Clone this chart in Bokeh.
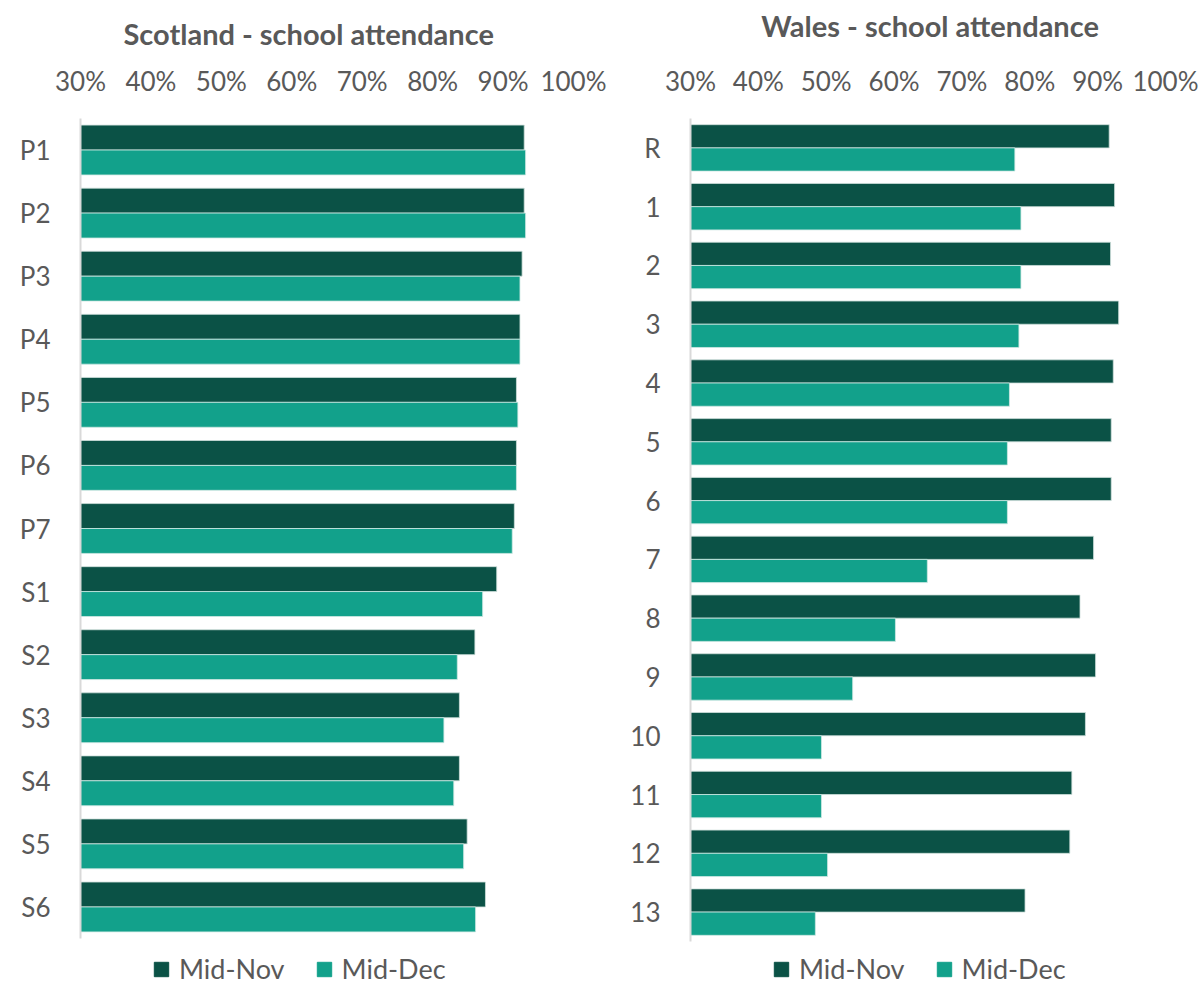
from bokeh.plotting import figure
from bokeh.models import (FactorRange, Range1d, FixedTicker, PrintfTickFormatter,
                          Legend, LegendItem, ColumnDataSource, Label)
from bokeh.transform import dodge
from bokeh.layouts import row, column
from bokeh.embed import file_html
from bokeh.resources import INLINE

# ---------------- data ----------------
scot_years = ["P1", "P2", "P3", "P4", "P5", "P6", "P7", "S1", "S2", "S3", "S4", "S5", "S6"]
scot_nov = [93.0, 93.0, 92.7, 92.4, 91.9, 91.9, 91.6, 89.1, 86.0, 83.8, 83.8, 84.9, 87.5]
scot_dec = [93.2, 93.2, 92.4, 92.4, 92.1, 91.9, 91.3, 87.1, 83.5, 81.6, 83.0, 84.4, 86.1]

wales_years = ["R", "1", "2", "3", "4", "5", "6", "7", "8", "9", "10", "11", "12", "13"]
wales_nov = [91.7, 92.5, 91.9, 93.1, 92.3, 92.0, 92.0, 89.4, 87.4, 89.7, 88.2, 86.2, 85.9, 79.3]
wales_dec = [77.8, 78.7, 78.7, 78.4, 77.0, 76.7, 76.7, 64.9, 60.2, 53.9, 49.3, 49.3, 50.2, 48.4]

x_ticks = [30, 40, 50, 60, 70, 80, 90, 100]
series_labels = ["Mid-Nov", "Mid-Dec"]
titles = ["Scotland - school attendance", "Wales - school attendance"]

NOV_COLOR = "#0B5246"
DEC_COLOR = "#12A18B"
TEXT_COLOR = "#595959"
FONT = "Lato"
HEADER_H = 50


def make_header(width, title, title_x, title_y):
    h = figure(width=width, height=HEADER_H, x_range=Range1d(30, 100),
               y_range=Range1d(HEADER_H, 0), output_backend="svg", toolbar_location=None,
               min_border=0, x_axis_location=None, y_axis_location=None)
    h.outline_line_color = None
    h.grid.visible = False
    h.add_layout(Label(x=title_x, y=title_y, text=title, text_align="center",
                       text_baseline="middle", text_font=FONT, text_font_size="29px",
                       text_font_style="bold", text_color=TEXT_COLOR))
    return h


def make_panel(cats, nov, dec, width, height, b_left, b_right, b_top, b_bottom):
    src = ColumnDataSource(dict(cat=cats, nov=nov, dec=dec))
    p = figure(width=width, height=height,
               y_range=FactorRange(factors=list(reversed(cats))),
               x_range=Range1d(30, 100),
               x_axis_location="above",
               output_backend="svg", toolbar_location=None,
               min_border_left=b_left, min_border_right=b_right,
               min_border_top=b_top, min_border_bottom=b_bottom)
    p.outline_line_color = None
    p.xgrid.visible = False
    p.ygrid.visible = False

    p.hbar(y=dodge("cat", 0.1975, range=p.y_range), left=30, right="nov", height=0.395,
           source=src, fill_color=NOV_COLOR, line_color="#cfe0dc", line_width=0.8)
    p.hbar(y=dodge("cat", -0.1975, range=p.y_range), left=30, right="dec", height=0.395,
           source=src, fill_color=DEC_COLOR, line_color="#cfe9e3", line_width=0.8)

    # x axis (top)
    xa = p.xaxis[0]
    xa.ticker = FixedTicker(ticks=x_ticks)
    xa.formatter = PrintfTickFormatter(format="%d%%")
    xa.axis_line_color = None
    xa.major_tick_line_color = None
    xa.minor_tick_line_color = None
    xa.major_label_text_font = FONT
    xa.major_label_text_font_size = "26px"
    xa.major_label_text_color = TEXT_COLOR
    xa.major_label_standoff = 16

    # y axis
    ya = p.yaxis[0]
    ya.axis_line_color = "#d9d9d9"
    ya.axis_line_width = 2
    ya.major_tick_line_color = None
    ya.minor_tick_line_color = None
    ya.major_tick_out = 0
    ya.major_label_text_font = FONT
    ya.major_label_text_font_size = "26px"
    ya.major_label_text_color = TEXT_COLOR
    ya.major_label_standoff = 30
    return p


def make_legend(width, height, legend_x):
    lf = figure(width=width, height=height, output_backend="svg", toolbar_location=None,
                min_border=0, x_axis_location=None, y_axis_location=None)
    lf.outline_line_color = None
    lf.grid.visible = False
    # zero-size legend proxies (only their swatches are shown in the legend)
    r1 = lf.hbar(y=[0], left=[0], right=[0], height=0, fill_color=NOV_COLOR, line_color=NOV_COLOR)
    r2 = lf.hbar(y=[0], left=[0], right=[0], height=0, fill_color=DEC_COLOR, line_color=DEC_COLOR)
    legend = Legend(items=[LegendItem(label=series_labels[0], renderers=[r1]),
                           LegendItem(label=series_labels[1], renderers=[r2])],
                    orientation="horizontal", location=(legend_x, 0),
                    glyph_width=18, glyph_height=18, label_standoff=9, spacing=30,
                    padding=0, margin=0, border_line_color=None, background_fill_alpha=0,
                    label_text_font=FONT, label_text_font_size="27px",
                    label_text_color=TEXT_COLOR)
    lf.add_layout(legend, "center")
    return lf


h1 = make_header(615, titles[0], 62.4, 33)
p1 = make_panel(scot_years, scot_nov, scot_dec,
                width=615, height=895, b_left=80, b_right=42, b_top=68, b_bottom=7)
l1 = make_legend(615, 40, 72)

h2 = make_header(585, titles[1], 65.3, 25)
p2 = make_panel(wales_years, wales_nov, wales_dec,
                width=585, height=895, b_left=75, b_right=35, b_top=68, b_bottom=4)
l2 = make_legend(585, 40, 82)

layout = row(column(h1, p1, l1), column(h2, p2, l2))
open("out.html", "w").write(file_html(layout, INLINE))
